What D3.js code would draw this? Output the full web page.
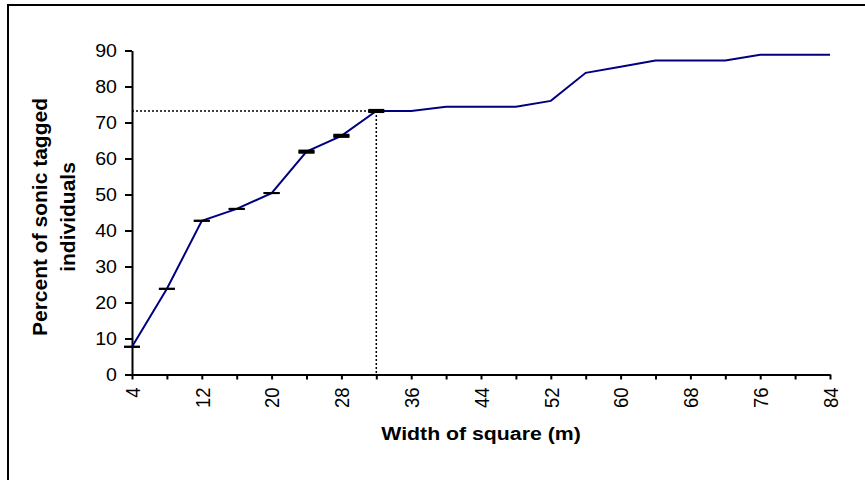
<!DOCTYPE html>
<html>
<head>
<meta charset="utf-8">
<script src="https://cdn.jsdelivr.net/npm/d3@7"></script>
<style>
  html, body { margin: 0; padding: 0; background: #fff; }
  svg { display: block; }
  text { font-family: "Liberation Sans", Arial, sans-serif; fill: #000; }
</style>
</head>
<body>
<svg id="chart" width="865" height="480"></svg>
<script>
// ---- data ----
const widths = [4, 8, 12, 16, 20, 24, 28, 32, 36, 40, 44, 48, 52, 56, 60, 64, 68, 72, 76, 80, 84];
const percent = [7.7, 23.8, 42.7, 46.0, 50.4, 61.9, 66.3, 73.2, 73.2, 74.4, 74.4, 74.4, 76.0, 83.8, 85.5, 87.2, 87.2, 87.2, 88.8, 88.8, 88.8];
const errWidths = [4, 8, 12, 16, 20, 24, 28, 32];
const errValues = [0, 0, 0, 0, 0, 0.3, 0.3, 0.3];
const xTickLabels = [4, 12, 20, 28, 36, 44, 52, 60, 68, 76, 84];
const yTickValues = [0, 10, 20, 30, 40, 50, 60, 70, 80, 90];
const refWidth = 32;
const refPercent = 73.2;
const xTitle = "Width of square (m)";
const yTitleLines = ["Percent of sonic tagged", "individuals"];

// ---- layout ----
const svg = d3.select("#chart");
const mLeft = 132, mRight = 830, mTop = 50.5, mBottom = 374.5;
const sx = 1.12; // horizontal stretch of the original raster

const x = d3.scaleLinear().domain([4, 84]).range([mLeft, mRight]);
const y = d3.scaleLinear().domain([0, 90]).range([mBottom, mTop]);

// outer frame
svg.append("rect")
  .attr("x", 8).attr("y", 5).attr("width", 900).attr("height", 500)
  .attr("fill", "none").attr("stroke", "#000").attr("stroke-width", 2);

// y axis
const yAxis = svg.append("g")
  .attr("transform", `translate(${mLeft},0)`)
  .call(d3.axisLeft(y).tickValues(yTickValues).tickSize(7).tickPadding(8).tickSizeOuter(0));
yAxis.select(".domain").attr("stroke", "#000").attr("stroke-width", 2);
yAxis.selectAll(".tick line").attr("stroke", "#000").attr("stroke-width", 2);
yAxis.selectAll(".tick text")
  .attr("font-size", 17.5)
  .attr("font-family", "Liberation Sans, Arial, sans-serif")
  .attr("x", -15 / sx)
  .attr("transform", `scale(${sx},1)`);

// x axis
const xAxis = svg.append("g")
  .attr("transform", `translate(0,${mBottom})`)
  .call(d3.axisBottom(x).tickValues(widths).tickSize(5).tickSizeOuter(0)
    .tickFormat(d => xTickLabels.includes(d) ? d : ""));
xAxis.select(".domain").attr("stroke", "#000").attr("stroke-width", 2);
xAxis.selectAll(".tick line").attr("stroke", "#000").attr("stroke-width", 2);
xAxis.selectAll(".tick text")
  .attr("font-size", 18.5)
  .attr("font-family", "Liberation Sans, Arial, sans-serif")
  .attr("text-anchor", "end")
  .attr("x", -13)
  .attr("y", 0)
  .attr("dy", "0.35em")
  .attr("transform", `scale(${sx},1) rotate(-90)`);

// reference dotted lines
svg.append("line")
  .attr("x1", x(4)).attr("x2", x(refWidth))
  .attr("y1", y(refPercent)).attr("y2", y(refPercent))
  .attr("stroke", "#000").attr("stroke-width", 1.5).attr("stroke-dasharray", "2,2");
svg.append("line")
  .attr("x1", x(refWidth)).attr("x2", x(refWidth))
  .attr("y1", y(refPercent)).attr("y2", y(0))
  .attr("stroke", "#000").attr("stroke-width", 1.5).attr("stroke-dasharray", "2,2");

// data line
const line = d3.line().x((d, i) => x(widths[i])).y(d => y(d));
svg.append("path")
  .datum(percent)
  .attr("d", line)
  .attr("fill", "none")
  .attr("stroke", "#000080")
  .attr("stroke-width", 2);

// error bars
const eb = svg.append("g");
errWidths.forEach((w, i) => {
  const v = percent[widths.indexOf(w)];
  const e = errValues[i];
  const cx = x(w);
  [v - e, v + e].forEach(val => {
    eb.append("line")
      .attr("x1", cx - 8).attr("x2", cx + 8)
      .attr("y1", y(val)).attr("y2", y(val))
      .attr("stroke", "#000").attr("stroke-width", 2);
  });
  if (e > 0) {
    eb.append("rect")
      .attr("x", cx - 8).attr("width", 16)
      .attr("y", y(v + e)).attr("height", y(v - e) - y(v + e))
      .attr("fill", "#000");
  }
});

// x title
svg.append("text")
  .attr("transform", `translate(${(mLeft + mRight) / 2},440) scale(${sx},1)`)
  .attr("text-anchor", "middle")
  .attr("font-size", 19)
  .attr("font-weight", "bold")
  .text(xTitle);

// y title
const yt = svg.append("text")
  .attr("transform", `translate(47,217) rotate(-90)`)
  .attr("text-anchor", "middle")
  .attr("font-size", 21)
  .attr("font-weight", "bold");
yTitleLines.forEach((t, i) => {
  yt.append("tspan").attr("x", 0).attr("y", i * 28).text(t);
});
</script>
</body>
</html>
